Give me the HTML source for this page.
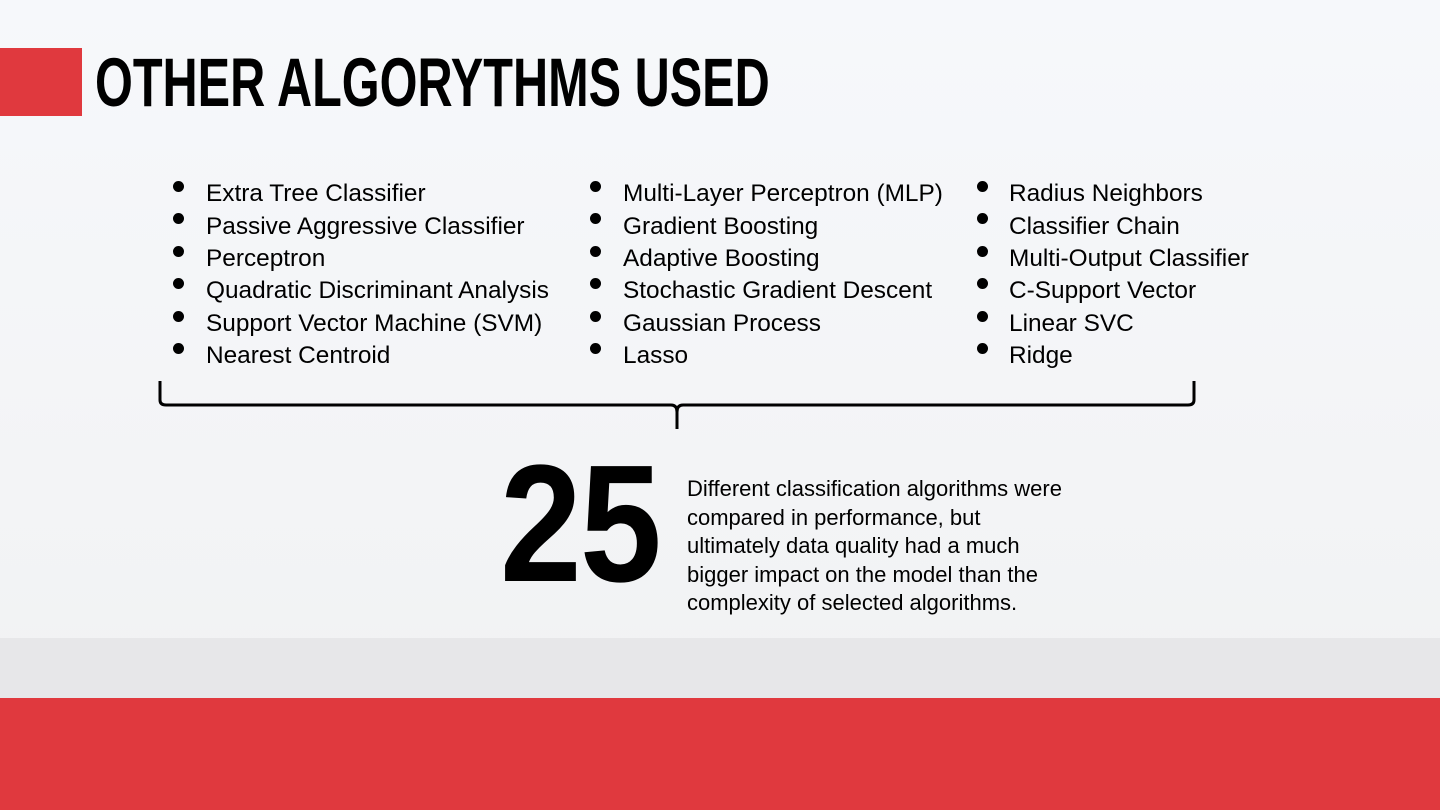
<!DOCTYPE html>
<html><head><meta charset="utf-8"><style>
*{margin:0;padding:0;box-sizing:border-box}
body{width:1440px;height:810px;overflow:hidden;position:relative;background:linear-gradient(180deg,#f6f8fb 0%,#f3f4f6 60%,#f1f1f2 100%);font-family:"Liberation Sans",sans-serif;color:#000}
.abs{position:absolute}
.title{left:95px;top:47px;font-weight:bold;font-size:69px;line-height:72px;white-space:nowrap;transform:scaleX(0.705);transform-origin:0 0}
.item{position:absolute;font-size:24.4px;line-height:26px;white-space:nowrap}
.dot{position:absolute;width:11px;height:11px;border-radius:50%;background:#000}
.num{left:500px;top:441px;font-weight:bold;font-size:167px;line-height:167px;letter-spacing:-2px;transform:scaleX(0.88);transform-origin:0 0}
.para{left:687px;top:475px;font-size:22px;line-height:28.5px;white-space:nowrap}
</style></head><body>
<div class="abs" style="left:0;top:48px;width:82px;height:68px;background:#e0393e"></div>
<div class="abs title">OTHER ALGORYTHMS USED</div>

<div class="dot" style="left:173px;top:181px"></div><div class="item" style="left:206px;top:181px">Extra Tree Classifier</div>
<div class="dot" style="left:173px;top:213px"></div><div class="item" style="left:206px;top:214px">Passive Aggressive Classifier</div>
<div class="dot" style="left:173px;top:246px"></div><div class="item" style="left:206px;top:246px">Perceptron</div>
<div class="dot" style="left:173px;top:278px"></div><div class="item" style="left:206px;top:278px">Quadratic Discriminant Analysis</div>
<div class="dot" style="left:173px;top:311px"></div><div class="item" style="left:206px;top:311px">Support Vector Machine (SVM)</div>
<div class="dot" style="left:173px;top:343px"></div><div class="item" style="left:206px;top:343px">Nearest Centroid</div>

<div class="dot" style="left:590px;top:181px"></div><div class="item" style="left:623px;top:181px">Multi-Layer Perceptron (MLP)</div>
<div class="dot" style="left:590px;top:213px"></div><div class="item" style="left:623px;top:214px">Gradient Boosting</div>
<div class="dot" style="left:590px;top:246px"></div><div class="item" style="left:623px;top:246px">Adaptive Boosting</div>
<div class="dot" style="left:590px;top:278px"></div><div class="item" style="left:623px;top:278px">Stochastic Gradient Descent</div>
<div class="dot" style="left:590px;top:311px"></div><div class="item" style="left:623px;top:311px">Gaussian Process</div>
<div class="dot" style="left:590px;top:343px"></div><div class="item" style="left:623px;top:343px">Lasso</div>

<div class="dot" style="left:977px;top:181px"></div><div class="item" style="left:1009px;top:181px">Radius Neighbors</div>
<div class="dot" style="left:977px;top:213px"></div><div class="item" style="left:1009px;top:214px">Classifier Chain</div>
<div class="dot" style="left:977px;top:246px"></div><div class="item" style="left:1009px;top:246px">Multi-Output Classifier</div>
<div class="dot" style="left:977px;top:278px"></div><div class="item" style="left:1009px;top:278px">C-Support Vector</div>
<div class="dot" style="left:977px;top:311px"></div><div class="item" style="left:1009px;top:311px">Linear SVC</div>
<div class="dot" style="left:977px;top:343px"></div><div class="item" style="left:1009px;top:343px">Ridge</div>

<svg class="abs" style="left:0;top:0" width="1440" height="810">
<path d="M160 381 L160 400 Q160 405 166 405 L671 405 Q677 405 677 412 L677 429 M677 412 Q677 405 683 405 L1188 405 Q1194 405 1194 400 L1194 381" fill="none" stroke="#000" stroke-width="3"/>
</svg>

<div class="abs num">25</div>
<div class="abs para">Different classification algorithms were<br>compared in performance, but<br>ultimately data quality had a much<br>bigger impact on the model than the<br>complexity of selected algorithms.</div>

<div class="abs" style="left:0;top:638px;width:1440px;height:60px;background:#e7e7e9"></div>
<div class="abs" style="left:0;top:698px;width:1440px;height:112px;background:#e0393e"></div>
</body></html>
